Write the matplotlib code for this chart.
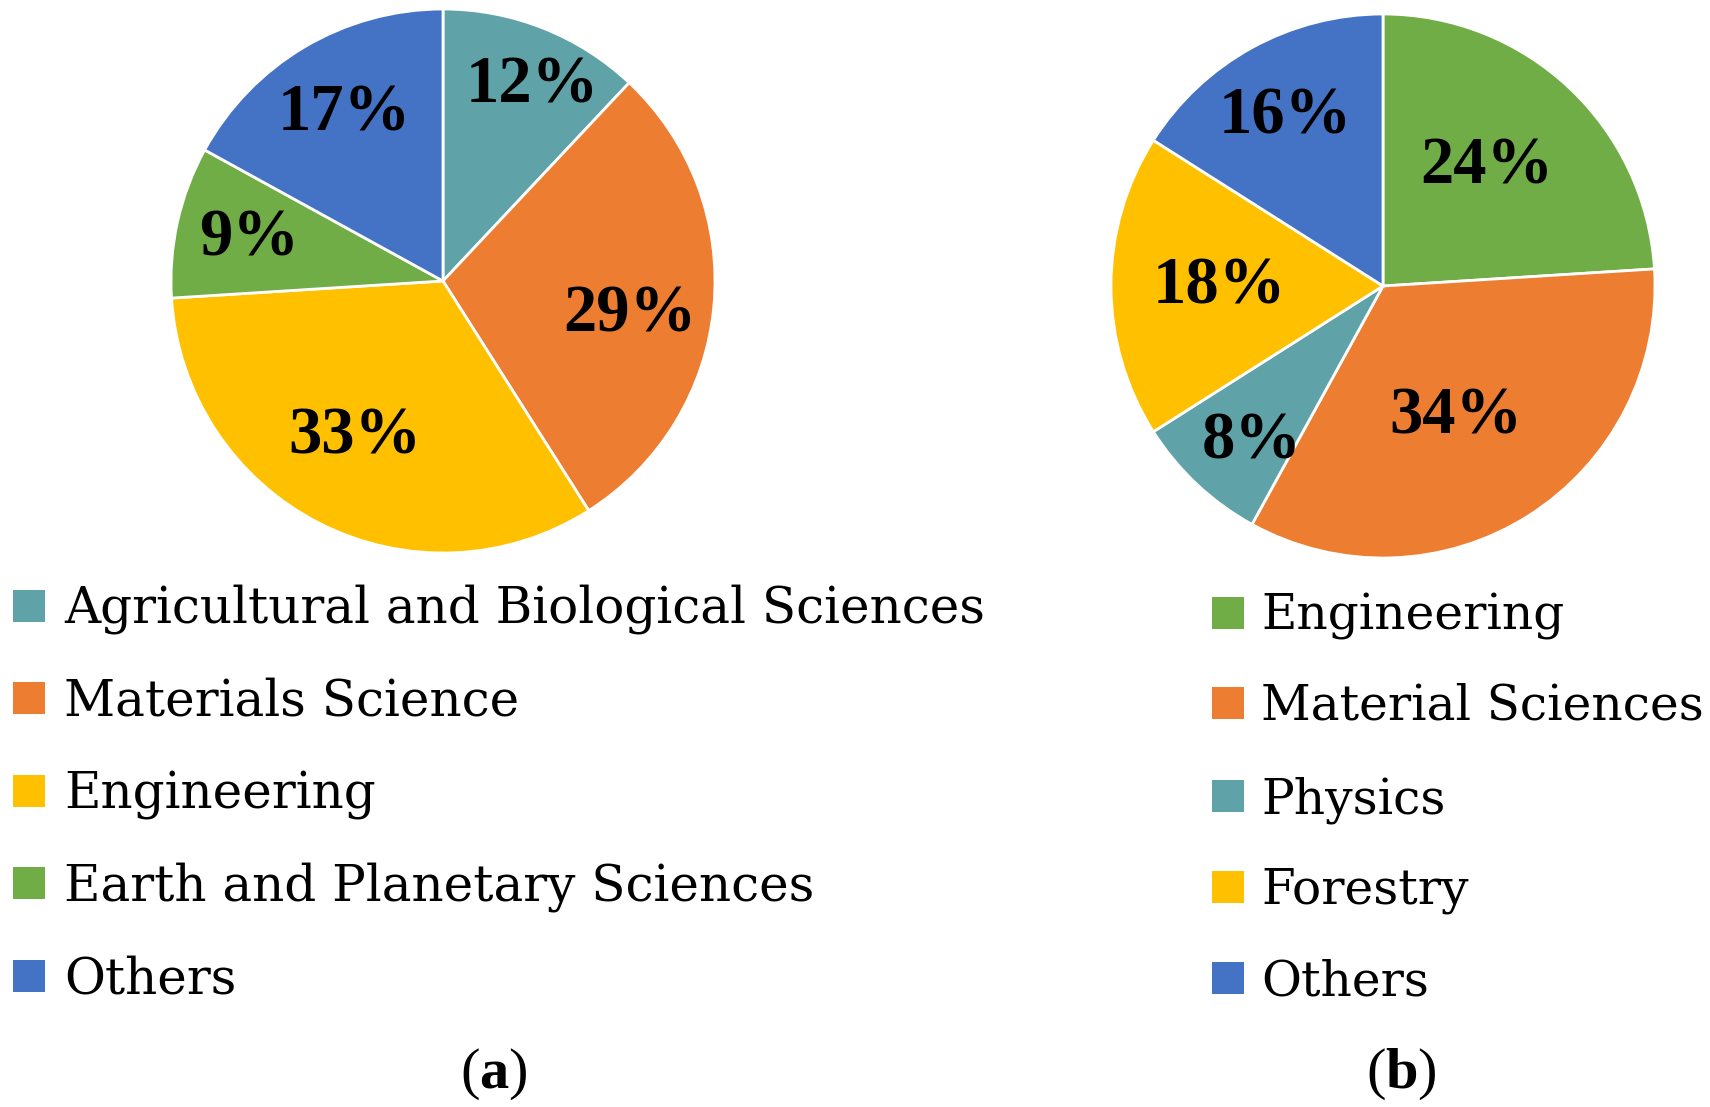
import numpy as np
import matplotlib.pyplot as plt
from matplotlib.patches import Rectangle

plt.rcParams['font.family'] = ['DejaVu Serif']
plt.rcParams['mathtext.fontset'] = 'custom'
plt.rcParams['mathtext.rm'] = 'Liberation Serif'
plt.rcParams['mathtext.bf'] = 'Liberation Serif:bold'

# ---- data ----
labels_a = ["Agricultural and Biological Sciences", "Materials Science",
            "Engineering", "Earth and Planetary Sciences", "Others"]
shares_a = [12, 29, 33, 9, 17]

labels_b = ["Engineering", "Material Sciences", "Physics", "Forestry", "Others"]
shares_b = [24, 34, 8, 18, 16]

# ---- style ----
TEAL, ORANGE, YELLOW, GREEN, BLUE = "#5FA3A9", "#ED7D31", "#FFC000", "#70AD47", "#4472C4"
colors_a = [TEAL, ORANGE, YELLOW, GREEN, BLUE]
colors_b = [GREEN, ORANGE, TEAL, YELLOW, BLUE]
# label placement inside each wedge: radius fraction and angle nudge (deg)
lblrad_a = [0.79, 0.70, 0.66, 0.73, 0.715]
lblrot_a = [-3.0, -5.0, -2.4, 0.5, 0.0]
lblrad_b = [0.58, 0.55, 0.75, 0.60, 0.72]
lblrot_b = [2.0, -3.4, 3.0, 0.4, 1.3]

W, H = 1710, 1107
fig = plt.figure(figsize=(W / 100, H / 100), dpi=100)


def draw_pie(cx, cy, r, shares, colors, lblrad, lblrot):
    pad = 1.02
    s = r * pad
    ax = fig.add_axes([(cx - s) / W, 1 - (cy + s) / H, 2 * s / W, 2 * s / H])
    wedges, _ = ax.pie(shares, colors=colors, startangle=90, counterclock=False,
                       radius=1, wedgeprops=dict(edgecolor="white", linewidth=2))
    for w, v, rr, dt in zip(wedges, shares, lblrad, lblrot):
        th = np.deg2rad((w.theta1 + w.theta2) / 2 + dt)
        ax.text(rr * np.cos(th), rr * np.sin(th), f"{v}%", ha="center", va="center",
                fontsize=48, fontweight="bold", family="Liberation Serif")
    ax.set_xlim(-pad, pad)
    ax.set_ylim(-pad, pad)
    ax.set_aspect("equal")
    ax.axis("off")
    return ax


def draw_legend(x0, y_rows, labels, colors, fs, size=32, tx=19):
    for y, lab, c in zip(y_rows, labels, colors):
        fig.add_artist(Rectangle((x0 / W, 1 - (y + size / 2) / H), size / W, size / H,
                                 transform=fig.transFigure, color=c, lw=0))
        fig.text((x0 + size + tx) / W, 1 - (y + 17) / H, lab, fontsize=fs,
                 ha="left", va="baseline")


draw_pie(443, 281, 272, shares_a, colors_a, lblrad_a, lblrot_a)
draw_pie(1383, 286, 272, shares_b, colors_b, lblrad_b, lblrot_b)

draw_legend(13, [606, 698, 791, 883, 976], labels_a, colors_a, fs=36)
draw_legend(1212, [613, 703, 796, 887, 978], labels_b, colors_b, fs=35, tx=17)

for cx, tag in [(494, "a"), (1401, "b")]:
    fig.text(cx / W, 1 - 1074 / H, r"($\mathbf{" + tag + "}$)", fontsize=42,
             family="Liberation Serif", ha="center", va="center")

fig.savefig("out.png", dpi=100, facecolor="white")
